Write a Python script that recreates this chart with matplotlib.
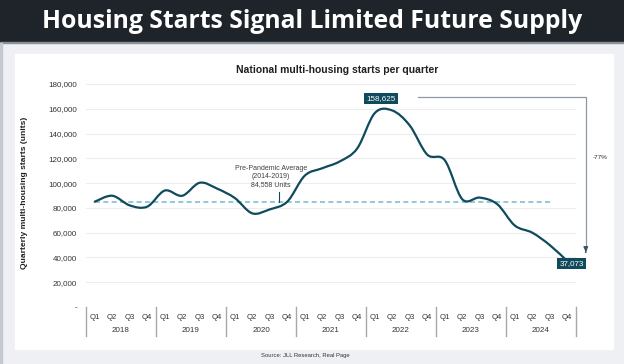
import numpy as np
import matplotlib
matplotlib.use("Agg")
import matplotlib.pyplot as plt
from matplotlib.path import Path
from matplotlib.patches import PathPatch, Rectangle
from matplotlib.transforms import blended_transform_factory

# ---- data ----
years = ["2018", "2019", "2020", "2021", "2022", "2023", "2024"]
quarters = ["Q1", "Q2", "Q3", "Q4"]
starts = [85000, 89800, 82000, 81000,
          94000, 89800, 100300, 95500,
          88000, 75600, 78800, 85000,
          106000, 112000, 117500, 128000,
          156500, 158625, 146500, 123000,
          118500, 87000, 88300, 83000,
          65800, 60000, 50000, 37073]
pre_pandemic_avg = 84558
peak_value = 158625
last_value = 37073
change_label = "-77%"

LINE = "#0f4a5d"
W, H = 624, 364


def fx(px):
    return px / W


def fy(py):
    return 1 - py / H


def smooth_path(vals):
    """Excel-like smoothed line: Catmull-Rom segments as cubic Beziers"""
    pts = np.column_stack([np.arange(len(vals)), vals]).astype(float)
    pad = np.vstack([pts[0], pts, pts[-1]])
    verts, codes = [pts[0]], [Path.MOVETO]
    for i in range(len(pts) - 1):
        p0, p1, p2, p3 = pad[i], pad[i + 1], pad[i + 2], pad[i + 3]
        verts += [p1 + (p2 - p0) / 6, p2 - (p3 - p1) / 6, p2]
        codes += [Path.CURVE4] * 3
    return Path(verts, codes)


fig = plt.figure(figsize=(W / 100, H / 100), dpi=100)
fig.patch.set_facecolor("#eff0f4")

# header band + white panel (kept behind the axes)
bg = [Rectangle((0, fy(42)), 1, 42 / H, color="#1e2429"),
      Rectangle((0, fy(43)), 1, 1 / H, color="#8a9098"),
      Rectangle((0, 0), 2 / W, fy(43), color="#c4c8d0"),
      Rectangle((fx(15), fy(349)), (612.5 - 15) / W, (349 - 54) / H, color="white")]
for r in bg:
    r.set_transform(fig.transFigure)
    r.set_zorder(-10)
    fig.patches.append(r)

fig.text(0.5, fy(21), "Housing Starts Signal Limited Future Supply", color="white",
         fontsize=17.8, fontweight="bold", family="Open Sans", ha="center", va="center")

ax = fig.add_axes([fx(86), fy(307), (576 - 86) / W, (307 - 84) / H])
ax.set_zorder(1)
ax.patch.set_alpha(0)
n = len(starts)
ax.set_xlim(-0.5, n - 0.5)
ax.set_ylim(0, 180000)
for s in ax.spines.values():
    s.set_visible(False)

ax.set_yticks(np.arange(0, 180001, 20000))
ax.set_yticklabels(["-"] + [f"{v:,}" for v in range(20000, 180001, 20000)])
ax.tick_params(axis="y", length=0, pad=6.5, labelsize=5.8, labelcolor="#333333")
for v in range(20000, 180001, 20000):
    ax.axhline(v, color="#ededed", lw=0.8, zorder=0)

ax.set_xticks(np.arange(n))
ax.set_xticklabels(quarters * len(years))
ax.tick_params(axis="x", length=0, pad=5.3, labelsize=5.6, labelcolor="#333333")
for lab in ax.get_xticklabels() + ax.get_yticklabels():
    lab.set_family("Liberation Sans")

trans = blended_transform_factory(ax.transData, ax.transAxes)
for k, yr in enumerate(years):
    ax.text(4 * k + 1.5, -23.5 / 223, yr, transform=trans, ha="center", va="center",
            fontsize=5.8, color="#333333", family="Liberation Sans")
for k in range(len(years) + 1):
    ax.plot([4 * k - 0.5] * 2, [0, -29 / 223], transform=trans, color="#a8a8a8",
            lw=1.0, clip_on=False)

# average line + note
ax.plot([0, n - 2], [pre_pandemic_avg] * 2, color="#7fbfd4", lw=1.2,
        dashes=(3, 2), zorder=2)
ax.plot([10.55, 10.55], [93100, pre_pandemic_avg], color=LINE, lw=0.8, zorder=2)
ax.text(10.07, 105200, f"Pre-Pandemic Average\n(2014-2019)\n{pre_pandemic_avg:,} Units",
        ha="center", va="center", fontsize=5, color="#404040",
        family="Liberation Sans", linespacing=1.15)

# main line
ax.add_patch(PathPatch(smooth_path(starts), fill=False, edgecolor=LINE, lw=1.6,
                       capstyle="round", zorder=3))

box = dict(boxstyle="square,pad=0.25", facecolor=LINE, edgecolor="none")
ax.text(16.35, peak_value + 9900, f"{peak_value:,}", ha="center", va="center",
        fontsize=5.8, color="white", bbox=box, family="Liberation Sans", zorder=4)
ax.text(27.24, last_value - 1600, f"{last_value:,}", ha="center", va="center",
        fontsize=5.8, color="white", bbox=box, family="Liberation Sans", zorder=4)

# decline bracket
top = peak_value + 10500
ax.plot([18.47, 28.06, 28.06], [top, top, last_value + 9000], color="#8e98a2",
        lw=0.9, clip_on=False)
ax.annotate("", xy=(28.06, last_value + 7000), xytext=(28.06, last_value + 9500),
            arrowprops=dict(arrowstyle="-|>,head_width=0.13,head_length=0.3",
                            color="#3d5560", lw=0.9), annotation_clip=False)
ax.text(28.89, 120800, change_label, ha="center", va="center", fontsize=4.6,
        color="#303030", family="Liberation Sans")

fig.text(fx(337), fy(70), "National multi-housing starts per quarter", ha="center",
         va="center", fontsize=7.5, fontweight="bold", color="#202020",
         family="Liberation Sans")
fig.text(fx(25), fy(192.5), "Quarterly multi-housing starts (units)", rotation=90,
         ha="center", va="center", fontsize=6.1, fontweight="bold", color="#202020",
         family="Liberation Sans")
fig.text(fx(305), fy(355), "Source: JLL Research, Real Page", ha="center",
         va="center", fontsize=4.2, color="#333333", family="Liberation Sans")

fig.savefig("out.png", dpi=100)
